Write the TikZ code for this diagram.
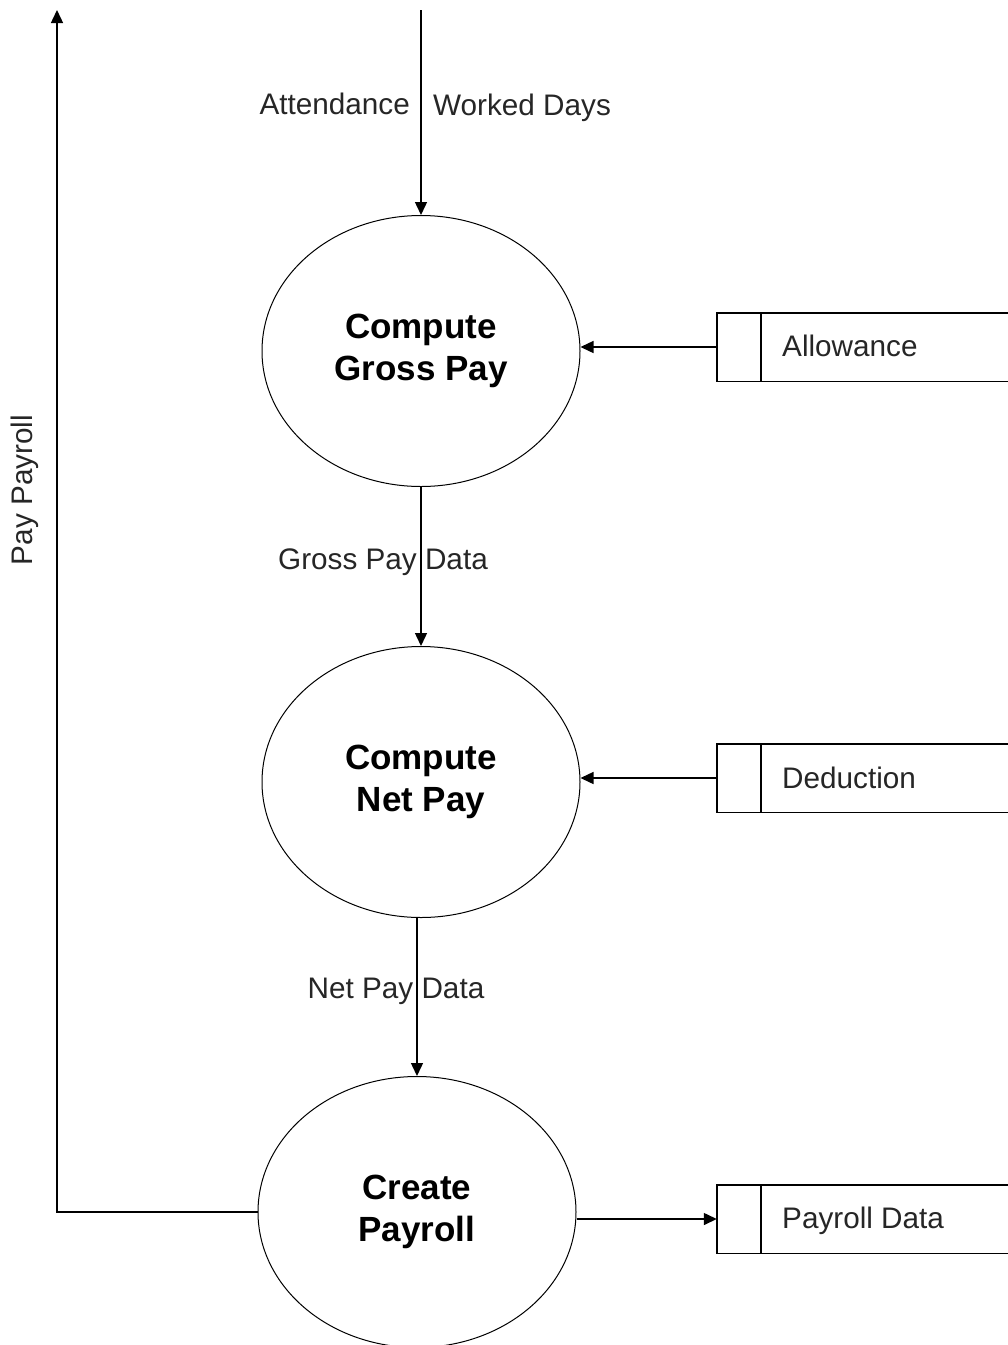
\documentclass[tikz,border=0pt]{standalone}
\usepackage{fontspec}
\setmainfont{Liberation Sans}
\usetikzlibrary{arrows.meta,shapes.geometric}
\begin{document}
\begin{tikzpicture}[x=1pt,y=-1pt,
  proc/.style={ellipse, draw, line width=1pt, minimum width=318pt, minimum height=271pt,
    inner sep=0pt, align=center, font=\fontsize{35}{42}\selectfont\bfseries},
  flow/.style={line width=1.4pt, -{Triangle[length=13pt,width=12pt]}},
  lbl/.style={font=\fontsize{29.7}{36}\selectfont, text=black!85, inner sep=0pt},
  store/.style={minimum width=291pt, minimum height=68pt, inner sep=0pt},
  storeline/.style={line width=1.4pt},
]
\useasboundingbox (0,0) rectangle (1008,1345);

% processes
\node[proc] (gross)  at (421,351)  {Compute\\Gross Pay};
\node[proc] (net)    at (421,782)  {Compute\\Net Pay};
\node[proc] (create) at (417,1212) {Create\\Payroll};

% data stores (open on the right)
\node[store] (allow) at (862.5,347)  {};
\node[store] (ded)   at (862.5,778)  {};
\node[store] (pdata) at (862.5,1219) {};
\foreach \s in {allow,ded,pdata}{
  \draw[storeline] (\s.north east) -- (\s.north west) -- (\s.south west) -- (\s.south east);
  \draw[storeline] ([xshift=44pt]\s.north west) -- ([xshift=44pt]\s.south west);
}
\node[lbl, anchor=base west] (allowlbl) at (782,356)  {Allowance};
\node[lbl, anchor=base west] (dedlbl)   at (782,788)  {Deduction};
\node[lbl, anchor=base west] (pdatalbl) at (782,1228) {Payroll Data};

% free ends
\coordinate (src) at (421,10);
\coordinate (out) at (57,10);

% flows
\draw[flow] (src) -- (gross.north);
\draw[flow] (gross.south) -- (net.north);
\draw[flow] (create.north |- net.south) -- (create.north);
\draw[flow] (allow.west) -- (allow.west -| gross.east);
\draw[flow] (ded.west) -- (ded.west -| net.east);
\draw[flow] (pdata.west -| create.east) -- (pdata.west);
\draw[flow] (create.west) -| (out);

% flow labels
\node[lbl, anchor=base east] (attlbl)  at (410,114) {Attendance};
\node[lbl, anchor=base west] (worklbl) at (433,115) {Worked Days};
\node[lbl, anchor=base] (grosslbl) at (383,569) {Gross Pay Data};
\node[lbl, anchor=base] (netlbl)   at (396,998) {Net Pay Data};
\node[lbl, rotate=90] (paylbl) at (25,490) {Pay Payroll};
\end{tikzpicture}
\end{document}
